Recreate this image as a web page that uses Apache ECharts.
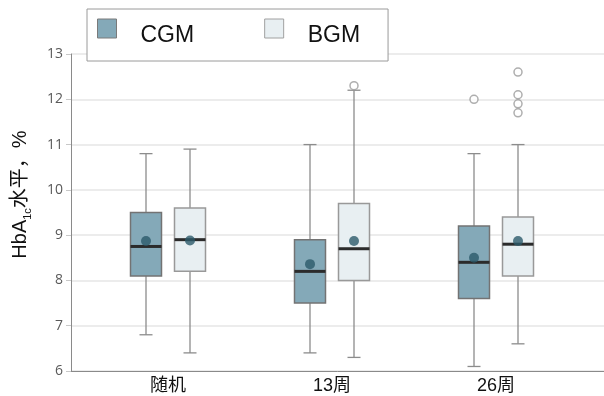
<!DOCTYPE html>
<html>
<head>
<meta charset="utf-8">
<script src="https://cdn.jsdelivr.net/npm/echarts@6/dist/echarts.min.js"></script>
<style>
  html, body { margin: 0; padding: 0; background: #fff; }
  #chart { width: 604px; height: 396px; }
</style>
</head>
<body>
<div id="chart"></div>
<script>
// Time points
const categories = ['随机', '13周', '26周'];
// Box statistics per time point: [min, Q1, median, Q3, max]
const cgmBox = [
  [6.8, 8.1, 8.75, 9.5, 10.8],
  [6.4, 7.5, 8.2, 8.9, 11.0],
  [6.1, 7.6, 8.4, 9.2, 10.8]
];
const bgmBox = [
  [6.4, 8.2, 8.9, 9.6, 10.9],
  [6.3, 8.0, 8.7, 9.7, 12.2],
  [6.6, 8.1, 8.8, 9.4, 11.0]
];
// Group means
const cgmMean = [8.87, 8.36, 8.5];
const bgmMean = [8.88, 8.87, 8.87];
// Outliers: [time point index, value]
const cgmOutliers = [[2, 12.0]];
const bgmOutliers = [[1, 12.3], [2, 12.6], [2, 12.1], [2, 11.9], [2, 11.7]];
// Value axis range and tick step
const yMin = 6, yMax = 13, yStep = 1;

const CGM_FILL = '#84a9b8', CGM_EDGE = '#737373';
const BGM_FILL = '#e8eff2', BGM_EDGE = '#999999';
const GROUP_SHIFT = 22;   // px offset of each group from the category centre

function boxRenderer(shift, fill, edge) {
  return function (params, api) {
    const i = api.value(0);
    const lo = api.coord([i, api.value(1)]);
    const q1 = api.coord([i, api.value(2)]);
    const md = api.coord([i, api.value(3)]);
    const q3 = api.coord([i, api.value(4)]);
    const hi = api.coord([i, api.value(5)]);
    const x = lo[0] + shift;
    const hw = 15.5, cw = 6.5;
    const whisker = { stroke: '#8c8c8c', lineWidth: 1.3 };
    return {
      type: 'group',
      children: [
        { type: 'line', shape: { x1: x, y1: hi[1], x2: x, y2: lo[1] }, style: whisker },
        { type: 'line', shape: { x1: x - cw, y1: hi[1], x2: x + cw, y2: hi[1] }, style: whisker },
        { type: 'line', shape: { x1: x - cw, y1: lo[1], x2: x + cw, y2: lo[1] }, style: whisker },
        { type: 'rect', shape: { x: x - hw, y: q3[1], width: hw * 2, height: q1[1] - q3[1] },
          style: { fill: fill, stroke: edge, lineWidth: 1.5 } },
        { type: 'line', shape: { x1: x - hw, y1: md[1], x2: x + hw, y2: md[1] },
          style: { stroke: '#2b2b2b', lineWidth: 3 } }
      ]
    };
  };
}

const chart = echarts.init(document.getElementById('chart'), null, { renderer: 'canvas' });

chart.setOption({
  animation: false,
  backgroundColor: '#fff',
  grid: [
    { left: 71, right: 0, top: 54, bottom: 25 },
    { left: 86, right: 26, top: 54, bottom: 25 }
  ],
  legend: {
    left: 87,
    top: 9,
    orient: 'horizontal',
    backgroundColor: '#fff',
    borderColor: '#9a9a9a',
    borderWidth: 1,
    padding: [1, 28, 14, 10],
    itemWidth: 19,
    itemHeight: 19,
    itemGap: 70,
    formatter: '{t|{name}}',
    textStyle: {
      rich: {
        t: { fontFamily: 'Liberation Sans', fontSize: 23, color: '#111',
             lineHeight: 24, padding: [14, 0, 0, 19] }
      }
    },
    selectedMode: false,
    data: [
      { name: 'CGM', icon: 'rect', itemStyle: { color: CGM_FILL, borderColor: '#7a7a7a', borderWidth: 1 } },
      { name: 'BGM', icon: 'rect', itemStyle: { color: BGM_FILL, borderColor: '#a0a0a0', borderWidth: 1 } }
    ]
  },
  xAxis: [
    {
      gridIndex: 0, type: 'value', min: 0, max: 1,
      axisLine: { show: true, lineStyle: { color: '#8a8a8a', width: 1 } },
      axisTick: { show: false }, axisLabel: { show: false }, splitLine: { show: false }
    },
    {
      gridIndex: 1, type: 'category', data: categories,
      axisLine: { show: false }, axisTick: { show: false }, splitLine: { show: false },
      axisLabel: { margin: 6, fontSize: 18, color: '#111',
        fontFamily: 'Liberation Sans, Noto Sans CJK SC' }
    }
  ],
  yAxis: [
    {
      gridIndex: 0, type: 'value', min: yMin, max: yMax, interval: yStep,
      axisLine: { show: true, lineStyle: { color: '#8a8a8a', width: 1 } },
      axisTick: { show: true, length: 5, lineStyle: { color: '#c8c8c8' } },
      axisLabel: { margin: 8, fontSize: 14, color: '#5a5a5a', fontFamily: 'Open Sans' },
      splitLine: { show: true, lineStyle: { color: '#e6e6e6', width: 1.5 } },
      name: '{a|HbA}{s|1c}{a|水平，%}',
      nameLocation: 'middle',
      nameRotate: 90,
      nameGap: 38,
      nameTextStyle: {
        padding: [0, 0, 0, 36],
        rich: {
          a: { fontSize: 20, fontFamily: 'Liberation Sans, Noto Sans CJK SC', color: '#111', lineHeight: 26 },
          s: { fontSize: 11, fontFamily: 'Liberation Sans', color: '#111', lineHeight: 26, verticalAlign: 'bottom' }
        }
      }
    },
    { gridIndex: 1, type: 'value', min: yMin, max: yMax, interval: yStep, show: false }
  ],
  series: [
    {
      name: 'CGM', type: 'custom', xAxisIndex: 1, yAxisIndex: 1,
      renderItem: boxRenderer(-GROUP_SHIFT, CGM_FILL, CGM_EDGE),
      encode: { x: 0, y: [1, 2, 3, 4, 5] },
      itemStyle: { color: CGM_FILL },
      data: cgmBox.map((b, i) => [i].concat(b)),
      z: 2
    },
    {
      name: 'BGM', type: 'custom', xAxisIndex: 1, yAxisIndex: 1,
      renderItem: boxRenderer(GROUP_SHIFT, BGM_FILL, BGM_EDGE),
      encode: { x: 0, y: [1, 2, 3, 4, 5] },
      itemStyle: { color: BGM_FILL },
      data: bgmBox.map((b, i) => [i].concat(b)),
      z: 2
    },
    {
      name: 'CGM均值', type: 'scatter', xAxisIndex: 1, yAxisIndex: 1,
      symbol: 'circle', symbolSize: 10, symbolOffset: [-GROUP_SHIFT, 0],
      itemStyle: { color: '#2c5a6a' },
      data: cgmMean.map((v, i) => [i, v]), z: 4
    },
    {
      name: 'BGM均值', type: 'scatter', xAxisIndex: 1, yAxisIndex: 1,
      symbol: 'circle', symbolSize: 10, symbolOffset: [GROUP_SHIFT, 0],
      itemStyle: { color: '#2c5a6a' },
      data: bgmMean.map((v, i) => [i, v]), z: 4
    },
    {
      name: 'CGM离群值', type: 'scatter', xAxisIndex: 1, yAxisIndex: 1,
      symbol: 'circle', symbolSize: 8, symbolOffset: [-GROUP_SHIFT, 0],
      itemStyle: { color: '#fff', borderColor: '#9a9a9a', borderWidth: 1.5 },
      data: cgmOutliers, z: 4
    },
    {
      name: 'BGM离群值', type: 'scatter', xAxisIndex: 1, yAxisIndex: 1,
      symbol: 'circle', symbolSize: 8, symbolOffset: [GROUP_SHIFT, 0],
      itemStyle: { color: '#fff', borderColor: '#9a9a9a', borderWidth: 1.5 },
      data: bgmOutliers, z: 4
    }
  ]
});
</script>
</body>
</html>
